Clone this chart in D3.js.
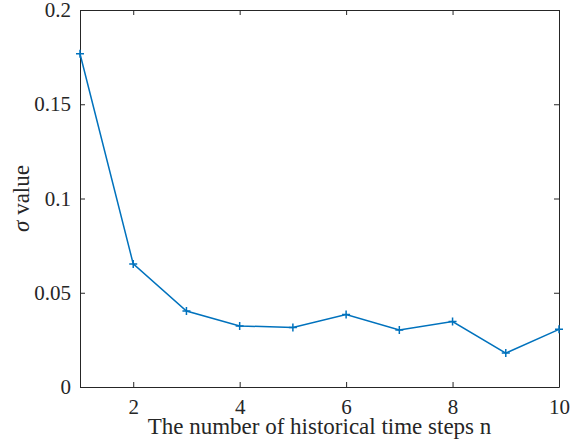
<!DOCTYPE html>
<html>
<head>
<meta charset="utf-8">
<script src="https://cdn.jsdelivr.net/npm/d3@7"></script>
</head>
<body style="margin:0; background:#fff">
<svg id="chart" width="585" height="443"></svg>
<script>
var steps = [1, 2, 3, 4, 5, 6, 7, 8, 9, 10];
var sigma = [0.1768, 0.0653, 0.0403, 0.0324, 0.0316, 0.0385, 0.0302, 0.0347, 0.0180, 0.0306];
var xTicks = [2, 4, 6, 8, 10];
var yTicks = [0, 0.05, 0.1, 0.15, 0.2];

var font = "'Liberation Serif'";
var width = 585, height = 443;
var margin = {left: 80, right: 26, top: 10, bottom: 56};
var iw = width - margin.left - margin.right;
var ih = height - margin.top - margin.bottom;

var svg = d3.select("#chart");
var g = svg.append("g").attr("transform", "translate(" + margin.left + "," + margin.top + ")");

var x = d3.scaleLinear().domain([1, 10]).range([0, iw]);
var y = d3.scaleLinear().domain([0, 0.2]).range([ih, 0]);

function styleAxis(sel) {
  sel.selectAll("path").attr("stroke", "#262626").attr("stroke-width", 1);
  sel.selectAll("line").attr("stroke", "#262626").attr("stroke-width", 1);
  sel.selectAll("text").attr("fill", "#262626")
    .style("font-family", font).style("font-size", "21px");
}

// bottom and left axes, ticks pointing in
var xb = g.append("g").attr("transform", "translate(0," + ih + ")")
  .call(d3.axisBottom(x).tickValues(xTicks).tickSizeInner(-5).tickSizeOuter(0).tickPadding(12).tickFormat(d3.format("d")));
styleAxis(xb);

var yl = g.append("g")
  .call(d3.axisLeft(y).tickValues(yTicks).tickSizeInner(-5).tickSizeOuter(0).tickPadding(9).tickFormat(function(d) { return d === 0 ? "0" : String(+d.toFixed(2)); }));
styleAxis(yl);

// top and right box with mirrored ticks
var xt = g.append("g").call(d3.axisTop(x).tickValues(xTicks).tickSizeInner(-5).tickSizeOuter(0).tickFormat(""));
styleAxis(xt);
var yr = g.append("g").attr("transform", "translate(" + iw + ",0)")
  .call(d3.axisRight(y).tickValues(yTicks).tickSizeInner(-5).tickSizeOuter(0).tickFormat(""));
styleAxis(yr);

var data = steps.map(function(s, i) { return {n: s, v: sigma[i]}; });

g.append("path")
  .datum(data)
  .attr("fill", "none")
  .attr("stroke", "#0072BD")
  .attr("stroke-width", 1.5)
  .attr("d", d3.line().x(function(d) { return x(d.n); }).y(function(d) { return y(d.v); }));

g.selectAll(".mark")
  .data(data)
  .enter()
  .append("path")
  .attr("class", "mark")
  .attr("transform", function(d) { return "translate(" + x(d.n) + "," + y(d.v) + ")"; })
  .attr("d", "M-4,0H4M0,-4V4")
  .attr("stroke", "#0072BD")
  .attr("stroke-width", 1.5);

// axis titles
svg.append("text")
  .attr("x", margin.left + iw / 2)
  .attr("y", 434)
  .attr("text-anchor", "middle")
  .attr("fill", "#262626")
  .style("font-family", font)
  .style("font-size", "23px")
  .text("The number of historical time steps n");

var yLab = svg.append("text")
  .attr("transform", "translate(29," + (margin.top + ih / 2) + ") rotate(-90)")
  .attr("text-anchor", "middle")
  .attr("fill", "#262626")
  .style("font-family", font)
  .style("font-size", "23px");
yLab.append("tspan").style("font-style", "italic").text("σ");
yLab.append("tspan").text(" value");
</script>
</body>
</html>
